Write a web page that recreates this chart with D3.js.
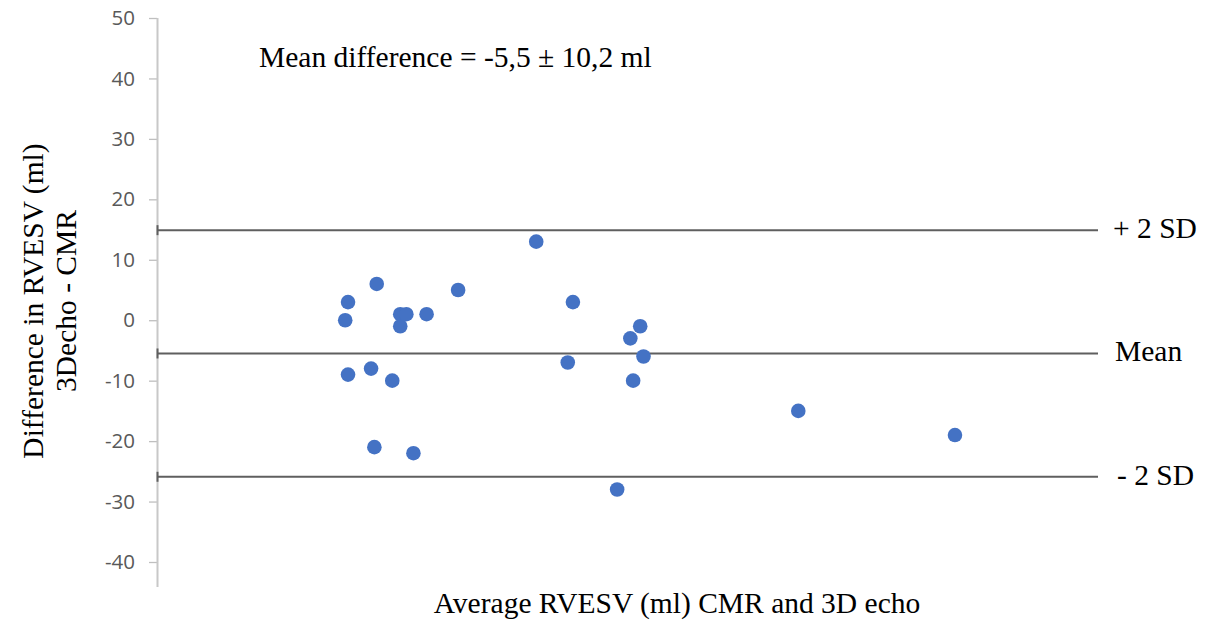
<!DOCTYPE html>
<html>
<head>
<meta charset="utf-8">
<script src="https://cdn.jsdelivr.net/npm/d3@7"></script>
<style>
  html, body { margin: 0; padding: 0; background: #fff; }
  svg { display: block; }
</style>
</head>
<body>
<div id="chart"></div>
<script>
var width = 1205,
  height = 628;

// average volume (ml) and difference (ml) for each patient
var avgVolume = [40.6, 40.0, 46.7, 51.7, 53.0, 51.7, 57.3, 64.0, 40.6, 45.5, 50.0,
  46.2, 54.5, 80.6, 88.4, 87.3, 100.6, 102.7, 103.4, 101.2, 97.8, 136.3, 169.6];
var difference = [3, 0, 6, 1, 1, -1, 1, 5, -9, -8, -10,
  -21, -22, 13, 3, -7, -3, -1, -6, -10, -28, -15, -19];

var meanDiff = -5.5;
var limitNames = ["+ 2 SD", "Mean", "- 2 SD"];
var limitValues = [14.9, -5.5, -25.9];
var yTicks = [50, 40, 30, 20, 10, 0, -10, -20, -30, -40];

var serif = "'Liberation Serif', 'Times New Roman', serif";

var svg = d3
  .select("#chart")
  .append("svg")
  .attr("width", width)
  .attr("height", height);

var x = d3.scaleLinear().domain([0, 200]).range([157, 1098]);
var y = d3.scaleLinear().domain([-40, 50]).range([562, 18]);

// y axis
var yAxis = svg
  .append("g")
  .attr("transform", "translate(157,0)")
  .call(
    d3.axisLeft(y)
      .tickValues(yTicks)
      .tickFormat(d => String(d))
      .tickSize(8)
      .tickSizeOuter(0)
      .tickPadding(14)
  );
yAxis.select(".domain").remove();
yAxis.selectAll(".tick line").attr("stroke", "#bfbfbf").attr("stroke-width", 1.3);
yAxis
  .selectAll(".tick text")
  .attr("fill", "#595959")
  .style("font-family", "'Open Sans', sans-serif")
  .style("font-size", "20.5px");

svg
  .append("line")
  .attr("x1", 157.5)
  .attr("x2", 157.5)
  .attr("y1", y(50))
  .attr("y2", y(-40) + 25)
  .attr("stroke", "#c8c8c8")
  .attr("stroke-width", 2);

// mean and limit lines
var limits = svg
  .selectAll(".limit")
  .data(limitValues)
  .enter()
  .append("g")
  .attr("class", "limit");

limits
  .append("line")
  .attr("x1", x(0))
  .attr("x2", x(200))
  .attr("y1", d => y(d))
  .attr("y2", d => y(d))
  .attr("stroke", "#5f5f5f")
  .attr("stroke-width", 2);

limits
  .append("line")
  .attr("x1", x(0) + 0.5)
  .attr("x2", x(0) + 0.5)
  .attr("y1", d => y(d) - 5)
  .attr("y2", d => y(d) + 5)
  .attr("stroke", "#5f5f5f")
  .attr("stroke-width", 2);

limits
  .append("text")
  .attr("x", (d, i) => x(200) + [15, 17, 19][i])
  .attr("y", d => y(d) + 8)
  .style("font-family", serif)
  .style("font-size", "29.5px")
  .attr("fill", "#000")
  .text((d, i) => limitNames[i]);

// points
svg
  .selectAll(".dot")
  .data(avgVolume)
  .enter()
  .append("circle")
  .attr("class", "dot")
  .attr("cx", d => x(d))
  .attr("cy", (d, i) => y(difference[i]))
  .attr("r", 7.3)
  .attr("fill", "#4472c4");

// annotation
svg
  .append("text")
  .attr("x", 259)
  .attr("y", 67)
  .style("font-family", serif)
  .style("font-size", "29.5px")
  .text("Mean difference = " + String(meanDiff).replace(".", ",") + " \u00b1 10,2 ml");

// axis titles
svg
  .append("text")
  .attr("x", 677)
  .attr("y", 613)
  .attr("text-anchor", "middle")
  .style("font-family", serif)
  .style("font-size", "29.5px")
  .text("Average RVESV (ml) CMR and 3D echo");

var yTitle = svg
  .append("text")
  .attr("transform", "translate(0,301) rotate(-90)")
  .attr("text-anchor", "middle")
  .style("font-family", serif)
  .style("font-size", "29.5px");
yTitle.append("tspan").attr("x", 0).attr("y", 43).text("Difference in RVESV (ml)");
yTitle.append("tspan").attr("x", 0).attr("y", 76).text("3Decho - CMR");
</script>
</body>
</html>
